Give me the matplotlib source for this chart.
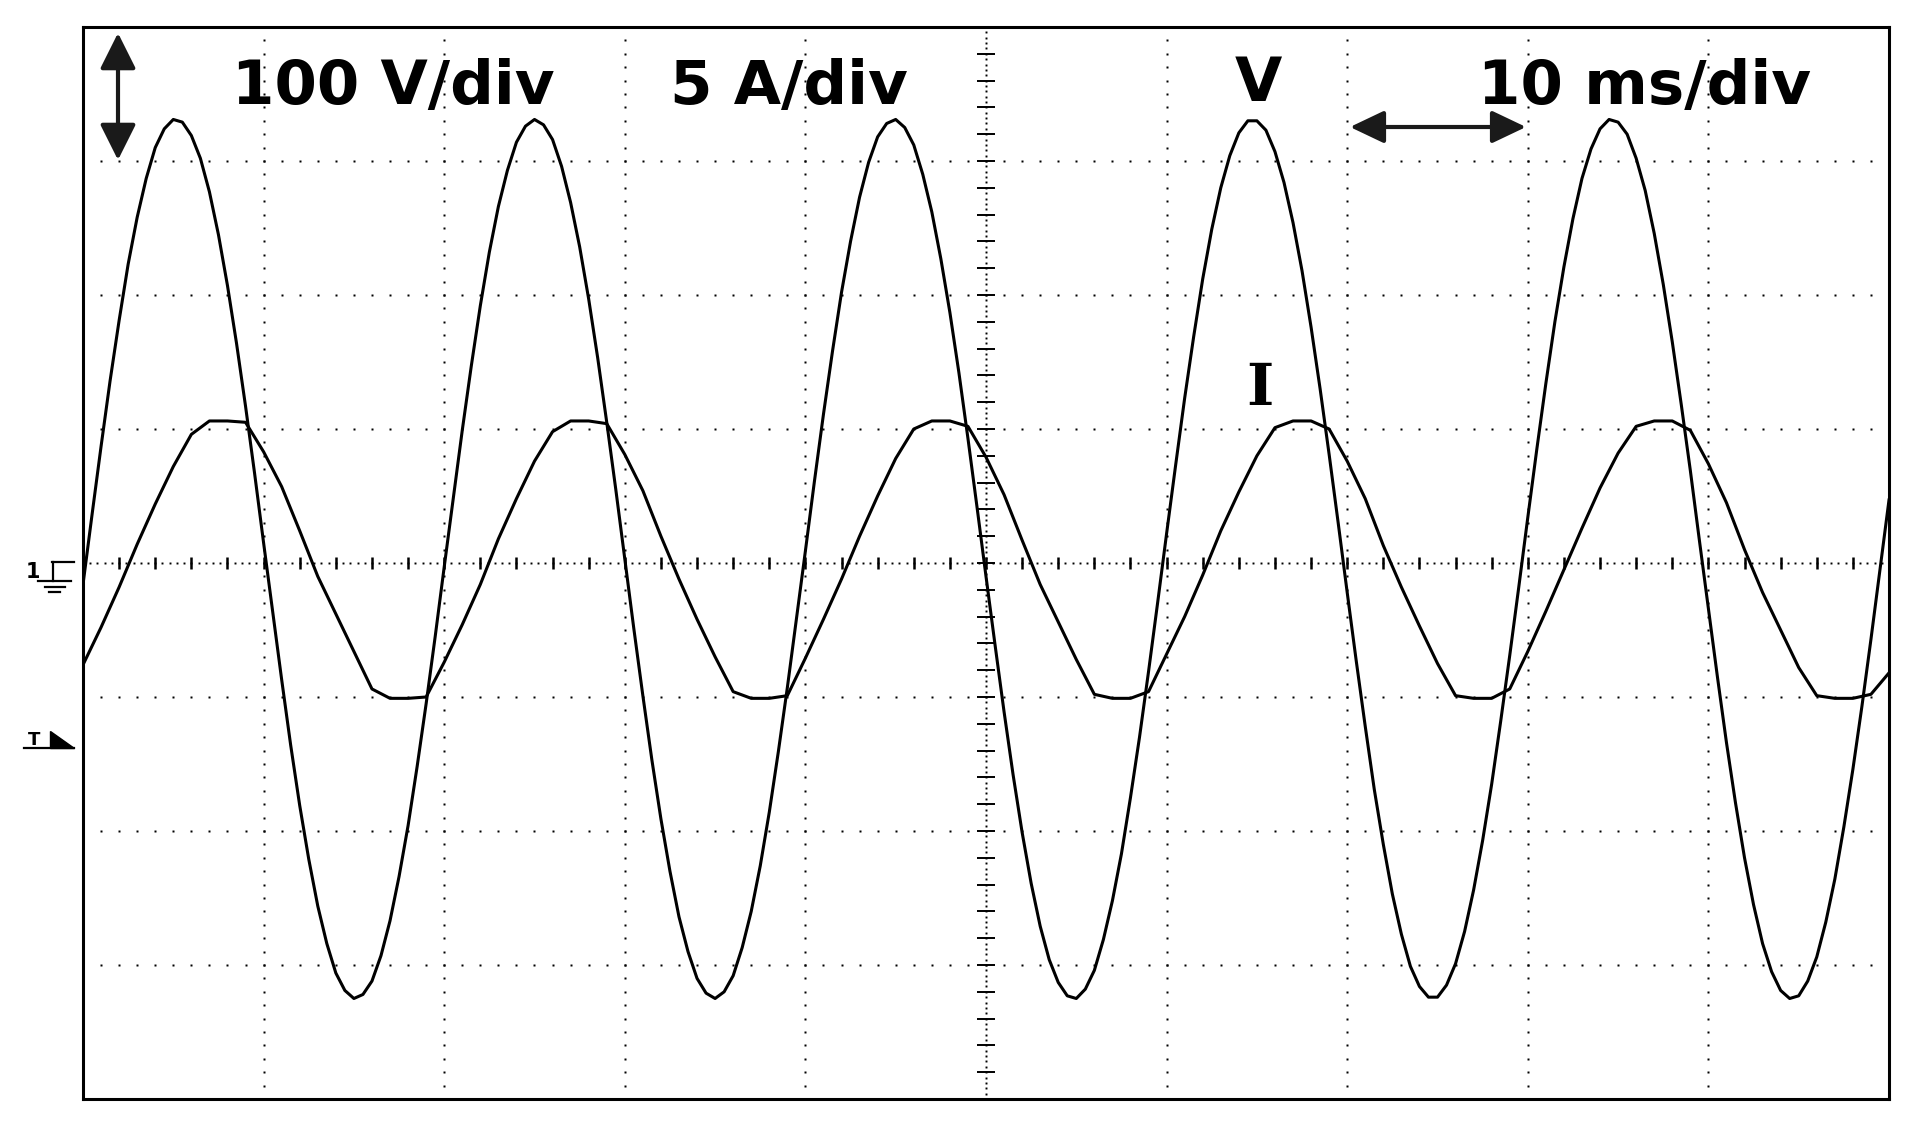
import numpy as np
import matplotlib.pyplot as plt
from matplotlib.lines import Line2D
from matplotlib.patches import Polygon, FancyArrowPatch

# Oscilloscope capture: 10 ms/div, 100 V/div (voltage), 5 A/div (current)
# voltage every 0.5 ms, current every 1 ms
voltage_time_ms = np.arange(0, 100.5, 0.5)
voltage_v = [-16, 36, 87, 136, 181, 223, 258, 287, 310, 324,
             331, 329, 319, 302, 277, 245, 207, 164, 117, 67,
             15, -36, -87, -136, -181, -221, -256, -284, -306, -319,
             -325, -322, -312, -293, -267, -234, -196, -152, -105, -55,
             -3, 48, 99, 147, 192, 232, 266, 293, 314, 326,
             331, 327, 316, 296, 269, 236, 197, 153, 105, 55,
             3, -49, -99, -147, -191, -230, -264, -290, -310, -321,
             -325, -320, -308, -287, -260, -226, -186, -141, -93, -42,
             9, 61, 111, 158, 202, 240, 273, 299, 318, 328,
             331, 325, 312, 290, 262, 227, 187, 142, 93, 42,
             -10, -61, -111, -158, -201, -239, -271, -296, -313, -323,
             -325, -318, -304, -281, -252, -217, -175, -130, -81, -30,
             22, 73, 123, 169, 212, 249, 280, 304, 321, 330,
             330, 323, 307, 284, 254, 218, 176, 130, 81, 30,
             -22, -73, -122, -169, -210, -247, -277, -301, -316, -324,
             -324, -315, -299, -275, -244, -207, -165, -118, -69, -18,
             34, 85, 134, 180, 221, 257, 287, 309, 324, 331,
             329, 320, 302, 278, 246, 208, 165, 118, 69, 17,
             -34, -85, -134, -179, -220, -255, -284, -305, -319, -325,
             -323, -312, -294, -268, -236, -197, -154, -107, -57, -5,
             47]

current_time_ms = np.arange(0, 101, 1)
current_a = [-3.8, -2.4, -0.9, 0.7, 2.2, 3.6, 4.8, 5.3, 5.3, 5.25,
             4.15, 2.85, 1.2, -0.5, -1.9, -3.3, -4.7, -5.05, -5.05, -5.0,
             -3.7, -2.3, -0.8, 0.9, 2.4, 3.8, 4.9, 5.3, 5.3, 5.2,
             4.05, 2.7, 1.0, -0.6, -2.1, -3.5, -4.8, -5.05, -5.05, -4.95,
             -3.55, -2.1, -0.6, 1.0, 2.5, 3.9, 5.0, 5.3, 5.3, 5.1,
             3.95, 2.55, 0.85, -0.8, -2.2, -3.6, -4.9, -5.05, -5.05, -4.8,
             -3.4, -2.0, -0.45, 1.2, 2.65, 4.0, 5.05, 5.3, 5.3, 5.0,
             3.8, 2.4, 0.65, -0.9, -2.35, -3.75, -4.95, -5.05, -5.05, -4.7,
             -3.3, -1.8, -0.25, 1.3, 2.8, 4.1, 5.1, 5.3, 5.3, 4.95,
             3.7, 2.25, 0.5, -1.1, -2.5, -3.9, -4.95, -5.05, -5.05, -4.9,
             -4.1]

volts_per_div = 100
amps_per_div = 5
ms_per_div = 10

W, H = 1915, 1128


def fig_xy(x, y):
    # pixel position (from top-left) -> figure fraction
    return x / W, 1 - y / H


fig = plt.figure(figsize=(W / 100, H / 100), dpi=100)
fig.patch.set_facecolor('white')
ax = fig.add_axes([83 / W, 1 - 1099 / H, 1806 / W, 1072 / H])
ax.set_xlim(0, 10 * ms_per_div)
ax.set_ylim(-4, 4)
ax.set_xticks([])
ax.set_yticks([])
for s in ax.spines.values():
    s.set_linewidth(2.2)
    s.set_color('black')

# dotted graticule
dot = dict(ls='none', marker='s', ms=1.8, color='black', mec='none')
ys = np.arange(-40, 41) / 10
xs = np.arange(0, 101) * ms_per_div / 10
for k in range(1, 10):
    if k == 5:
        continue
    ax.plot(np.full_like(ys, k * ms_per_div), ys, **dot)
for j in [-3, -2, -1, 1, 2, 3]:
    ax.plot(xs, np.full_like(xs, j), **dot)

# centre axes with finer dots and sub-division ticks
fine = dict(dot, ms=1.4)
cx = np.arange(0, 251) * 0.4
ax.plot(cx, np.zeros_like(cx), **fine)
cy = np.arange(-100, 101) * 0.04
ax.plot(np.full_like(cy, 50), cy, **fine)
ax.vlines(np.arange(2, 100, 2), -0.045, 0.045, color='black', lw=1.8)
ax.hlines(np.arange(-3.8, 3.81, 0.2), 49.5, 50.5, color='black', lw=1.4)

# traces
ax.plot(voltage_time_ms, np.array(voltage_v) / volts_per_div, color='black', lw=2.2)
ax.plot(current_time_ms, np.array(current_a) / amps_per_div, color='black', lw=2.2)

# labels
lab = dict(fontsize=44, fontweight='bold', family='DejaVu Sans', va='baseline')
fig.text(*fig_xy(232, 104), '100 V/div', ha='left', **lab)
fig.text(*fig_xy(670, 104), '5 A/div', ha='left', **lab)
fig.text(*fig_xy(1258, 101), 'V', ha='center', **lab)
fig.text(*fig_xy(1478, 104), '10 ms/div', ha='left', **lab)
fig.text(*fig_xy(1260, 405), 'I', ha='center', fontsize=42, fontweight='bold',
         family='DejaVu Serif', va='baseline')

# scale arrows
fig.patches.append(FancyArrowPatch(fig_xy(118, 33), fig_xy(118, 160),
                                   arrowstyle='<|-|>,head_length=22,head_width=11',
                                   mutation_scale=1, shrinkA=0, shrinkB=0, lw=3,
                                   color='#1a1a1a', transform=fig.transFigure))
fig.patches.append(FancyArrowPatch(fig_xy(1350, 127), fig_xy(1526, 127),
                                   arrowstyle='<|-|>,head_length=21,head_width=10',
                                   mutation_scale=1, shrinkA=0, shrinkB=0, lw=3,
                                   color='#1a1a1a', transform=fig.transFigure))

# channel 1 ground marker
fig.text(*fig_xy(33, 578), '1', fontsize=15, fontweight='bold', ha='center', va='baseline')
for (x0, y0), (x1, y1) in [((52, 562), (74, 562)), ((53, 562), (53, 581)),
                           ((38, 581), (71, 581)), ((45, 587), (65, 587)),
                           ((49, 592), (60, 592))]:
    p0, p1 = fig_xy(x0, y0), fig_xy(x1, y1)
    fig.lines.append(Line2D([p0[0], p1[0]], [p0[1], p1[1]], color='black', lw=1.6,
                            transform=fig.transFigure))

# trigger marker
fig.text(*fig_xy(34, 745), 'T', fontsize=13, fontweight='bold', ha='center', va='baseline')
p0, p1 = fig_xy(24, 748), fig_xy(74, 748)
fig.lines.append(Line2D([p0[0], p1[0]], [p0[1], p1[1]], color='black', lw=1.6,
                        transform=fig.transFigure))
fig.patches.append(Polygon([fig_xy(50, 731), fig_xy(50, 748), fig_xy(74, 748)],
                           closed=True, color='black', transform=fig.transFigure))

fig.savefig('out.png', dpi=100)
